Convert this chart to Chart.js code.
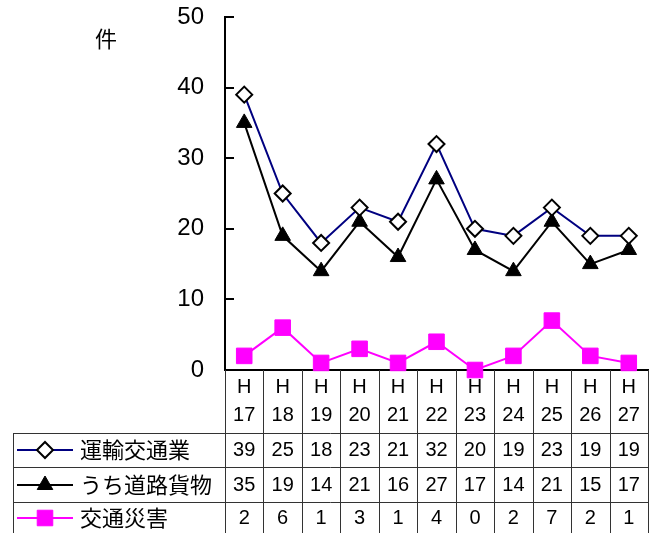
<!DOCTYPE html>
<html>
<head>
<meta charset="utf-8">
<script src="https://cdn.jsdelivr.net/npm/chart.js@4/dist/chart.umd.min.js"></script>
<style>
  html, body { margin: 0; padding: 0; background: #fff; }
  #wrap { width: 660px; height: 533px; }
</style>
</head>
<body>
<div id="wrap"><canvas id="myChart" width="660" height="533"></canvas></div>
<script>
const eras = ['H', 'H', 'H', 'H', 'H', 'H', 'H', 'H', 'H', 'H', 'H']
const years = ['17', '18', '19', '20', '21', '22', '23', '24', '25', '26', '27']
const transport = [39, 25, 18, 23, 21, 32, 20, 19, 23, 19, 19]
const roadFreight = [35, 19, 14, 21, 16, 27, 17, 14, 21, 15, 17]
const trafficAccidents = [2, 6, 1, 3, 1, 4, 0, 2, 7, 2, 1]
const seriesNames = ['運輸交通業', 'うち道路貨物', '交通災害']
const yTicks = [0, 10, 20, 30, 40, 50]
const unitLabel = '件'

const numFont = '"Liberation Sans", Arial, sans-serif'
const jpFont = '"Noto Sans CJK JP", sans-serif'

const tablePlugin = {
  id: 'dataTable',
  afterDraw(chart) {
    const ctx = chart.ctx
    const x = chart.scales.x
    const y = chart.scales.y
    const area = chart.chartArea
    const step = (area.right - area.left) / years.length
    const tableLeft = 13
    const bottom = 533
    const rowLines = [433, 467, 502]
    const rowCenters = [450, 485, 518]

    ctx.save()
    // inward y ticks
    ctx.strokeStyle = '#000'
    ctx.lineWidth = 2
    yTicks.forEach(v => {
      const py = Math.round(y.getPixelForValue(v))
      ctx.beginPath()
      ctx.moveTo(area.left, py)
      ctx.lineTo(area.left + 9, py)
      ctx.stroke()
    })

    // unit label
    ctx.fillStyle = '#000'
    ctx.font = '22px ' + jpFont
    ctx.textAlign = 'center'
    ctx.textBaseline = 'middle'
    ctx.fillText(unitLabel, 106, 39)

    // table grid
    ctx.strokeStyle = '#333'
    ctx.lineWidth = 1
    for (let i = 0; i <= years.length; i++) {
      const px = Math.round(area.left + i * step) + 0.5
      ctx.beginPath()
      ctx.moveTo(px, area.bottom)
      ctx.lineTo(px, bottom)
      ctx.stroke()
    }
    rowLines.forEach(ry => {
      ctx.beginPath()
      ctx.moveTo(tableLeft, ry + 0.5)
      ctx.lineTo(area.right, ry + 0.5)
      ctx.stroke()
    })
    ctx.beginPath()
    ctx.moveTo(tableLeft + 0.5, rowLines[0])
    ctx.lineTo(tableLeft + 0.5, bottom)
    ctx.stroke()

    // category labels and values
    ctx.fillStyle = '#000'
    ctx.font = '20px ' + numFont
    ctx.textAlign = 'center'
    ctx.textBaseline = 'middle'
    const rows = [transport, roadFreight, trafficAccidents]
    years.forEach((yr, i) => {
      const px = x.getPixelForValue(i)
      ctx.fillText(eras[i], px, 387)
      ctx.fillText(yr, px, 415)
      rows.forEach((r, k) => ctx.fillText(String(r[i]), px, rowCenters[k]))
    })

    // legend cells
    chart.data.datasets.forEach((ds, k) => {
      const cy = rowCenters[k]
      ctx.strokeStyle = ds.borderColor
      ctx.lineWidth = 2
      ctx.beginPath()
      ctx.moveTo(17, cy)
      ctx.lineTo(73, cy)
      ctx.stroke()
      ctx.fillStyle = ds.pointBackgroundColor
      ctx.strokeStyle = ds.pointBorderColor
      ctx.lineWidth = ds.pointBorderWidth
      Chart.helpers.drawPoint(ctx, {
        pointStyle: ds.pointStyle,
        radius: ds.pointRadius,
        rotation: 0,
        borderWidth: ds.pointBorderWidth,
      }, 45, cy)
      ctx.fillStyle = '#000'
      ctx.font = '22px ' + jpFont
      ctx.textAlign = 'left'
      ctx.fillText(seriesNames[k], 80, cy)
    })
    ctx.restore()
  },
}

new Chart('myChart', {
  type: 'line',
  data: {
    labels: years,
    datasets: [
      {
        label: seriesNames[0],
        data: transport,
        borderColor: '#000080',
        borderWidth: 2,
        pointStyle: 'rectRot',
        pointRadius: 8,
        pointBackgroundColor: '#fff',
        pointBorderColor: '#000',
        pointBorderWidth: 2,
        clip: false,
        order: 1,
      },
      {
        label: seriesNames[1],
        data: roadFreight,
        borderColor: '#000',
        borderWidth: 2,
        pointStyle: 'triangle',
        pointRadius: 9,
        pointBackgroundColor: '#000',
        pointBorderColor: '#000',
        pointBorderWidth: 1,
        clip: false,
        order: 2,
      },
      {
        label: seriesNames[2],
        data: trafficAccidents,
        borderColor: '#ff00ff',
        borderWidth: 2,
        pointStyle: 'rect',
        pointRadius: 11,
        pointBackgroundColor: '#ff00ff',
        pointBorderColor: '#ff00ff',
        pointBorderWidth: 1,
        clip: false,
        order: 3,
      },
    ],
  },
  options: {
    responsive: false,
    animation: false,
    events: [],
    layout: {padding: {left: 0, top: 17, right: 3, bottom: 0}},
    plugins: {legend: {display: false}, tooltip: {enabled: false}},
    elements: {line: {tension: 0}},
    scales: {
      x: {
        offset: true,
        grid: {display: false},
        border: {display: true, color: '#000', width: 2},
        ticks: {display: false},
        afterFit: scale => { scale.height = 163 },
      },
      y: {
        min: 0,
        max: 50,
        afterBuildTicks: scale => { scale.ticks = yTicks.map(v => ({value: v})) },
        grid: {drawOnChartArea: false, drawTicks: false},
        border: {display: true, color: '#000', width: 2},
        ticks: {
          padding: 21,
          color: '#000',
          font: {family: numFont, size: 24},
        },
        afterFit: scale => {
          scale.width = 225
          scale.paddingTop = 0
          scale.paddingBottom = 0
        },
      },
    },
  },
  plugins: [tablePlugin],
})
</script>
</body>
</html>
